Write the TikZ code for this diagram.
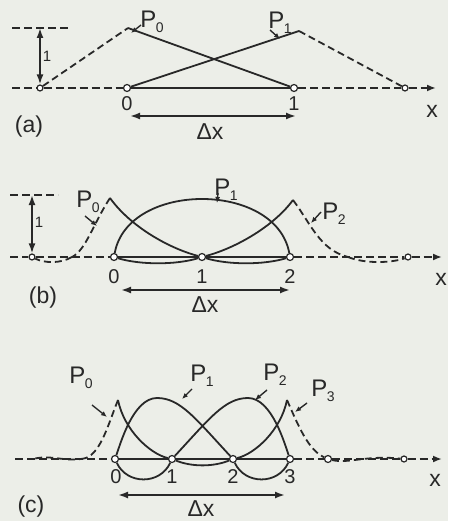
\documentclass[tikz,border=0pt]{standalone}
\usepackage{fontspec}
\setmainfont{Liberation Sans}
\usetikzlibrary{arrows.meta}
\definecolor{ink}{RGB}{40,40,40}
\definecolor{paper}{RGB}{236,238,232}
\newcommand{\Psub}[1]{P\kern-0.5pt\raisebox{-5pt}{\fontsize{14}{14}\selectfont #1}}
\begin{document}
\begin{tikzpicture}[x=1pt,y=-1pt,color=ink,line width=1.8pt,
  pt/.style={circle,draw=ink,fill=white,inner sep=0pt,minimum size=7pt,line width=1.2pt},
  spt/.style={pt,minimum size=6pt},
  axisdash/.style={dash pattern=on 8pt off 4pt},
  fdash/.style={dash pattern=on 7pt off 4pt},
  axtip/.style={-{Latex[length=9pt,width=7pt]}},
  dbl/.style={{Latex[length=10pt,width=7pt]}-{Latex[length=10pt,width=7pt]},line width=1.8pt},
  ptr/.style={-{Latex[length=6pt,width=5pt]},line width=1.4pt},
  plab/.style={font=\fontsize{24}{26}\selectfont,inner sep=0pt},
  num/.style={font=\fontsize{20}{21}\selectfont,inner sep=0pt},
  lab/.style={font=\fontsize{23}{25}\selectfont,inner sep=0pt},
  small/.style={font=\fontsize{15}{16}\selectfont,inner sep=0pt}]
\fill[paper] (0,0) rectangle (448,521);
\useasboundingbox (0,0) rectangle (448,521);

% ---------------- (a) ----------------
\coordinate (aS) at (12,88);
\node[spt] (aL) at (40,88) {};
\node[pt] (a0) at (127,88) {};
\node[pt] (a1) at (294,88) {};
\node[spt] (aR) at (405,88) {};
\coordinate (aE) at (436,88);
\coordinate (aT0) at (128,28);
\coordinate (aT1) at (299,31);
\coordinate (aTS) at (12,28);
\coordinate (aTE) at (68,28);
\coordinate (aV) at (40,28);
\draw[axisdash] (aTS) -- (aTE);
\draw[axisdash] (aS) -- (aL);
\draw[axisdash] (aL) -- (a0);
\draw (a0) -- (a1);
\draw[axisdash] (a1) -- (aR);
\draw[axisdash,axtip] (aR) -- (aE);
\draw[dbl] (aV) -- (aL);
\node[small] (aone) at (47,56) {1};
\draw[fdash] (aL) -- (aT0);
\draw (aT0) -- (a1);
\draw (a0) -- (aT1);
\draw[fdash] (aT1) -- (aR);
\node[plab] (aP0) at (152,22) {\Psub{0}};
\node[plab] (aP1) at (280,23) {\Psub{1}};
\coordinate (aP0s) at (141,25);
\coordinate (aP0t) at (131,33);
\coordinate (aP1s) at (270,30);
\coordinate (aP1t) at (280,39);
\draw[ptr] (aP0s) -- (aP0t);
\draw[ptr] (aP1s) -- (aP1t);
\node[num] (an0) at (127,104) {0};
\node[num] (an1) at (294,104) {1};
\coordinate (aD0) at (130,116);
\coordinate (aD1) at (296,116);
\draw[dbl] (aD0) -- (aD1);
\node[lab] (adx) at (210,132) {Δx};
\node[lab] (ax) at (432,111) {x};
\node[lab] (aname) at (29,127) {(a)};

% ---------------- (b) ----------------
\coordinate (bS) at (10,257);
\node[spt] (bL) at (32,257) {};
\coordinate (bl) at (72,257);
\node[pt] (b0) at (114,257) {};
\node[pt] (b1) at (202,257) {};
\node[pt] (b2) at (290,257) {};
\coordinate (br) at (348,257);
\node[spt] (bR) at (408,257) {};
\coordinate (bE) at (442,257);
\coordinate (bT0) at (110,198);
\coordinate (bT2) at (293,200);
\coordinate (bTS) at (10,195);
\coordinate (bTE) at (58,195);
\coordinate (bV) at (32,195);
\draw[axisdash] (bTS) -- (bTE);
\draw[axisdash] (bS) -- (bL);
\draw[axisdash] (bL) -- (b0);
\draw (b0) -- (b1);
\draw (b1) -- (b2);
\draw[axisdash] (b2) -- (bR);
\draw[axisdash,axtip] (bR) -- (bE);
\draw[dbl] (bV) -- (bL);
\node[small] (bone) at (39,222) {1};
% P1 arc
\draw (b0) .. controls (128,181) and (276,181) .. (b2);
% P0
\draw (bT0) .. controls (130,226) and (168,248) .. (b1);
\draw (b1) .. controls (228,265) and (264,265) .. (b2);
\draw[fdash] (bT0) .. controls (93,224) and (86,250) .. (bl);
\draw[fdash] (bl) .. controls (60,264) and (44,263) .. (bL);
% P2
\draw (b1) .. controls (236,248) and (274,226) .. (bT2);
\draw (b0) .. controls (140,265) and (176,265) .. (b1);
\draw[fdash] (bT2) .. controls (311,224) and (320,250) .. (br);
\draw[fdash] (br) .. controls (365,264) and (392,263) .. (bR);
\node[plab] (bP0) at (88,202) {\Psub{0}};
\node[plab] (bP1) at (226,190) {\Psub{1}};
\node[plab] (bP2) at (334,214) {\Psub{2}};
\coordinate (bP0s) at (85,216);
\coordinate (bP0t) at (97,226);
\coordinate (bP1s) at (218,193);
\coordinate (bP1t) at (217,203);
\coordinate (bP2s) at (321,212);
\coordinate (bP2t) at (311,223);
\draw[ptr] (bP0s) -- (bP0t);
\draw[ptr] (bP1s) -- (bP1t);
\draw[ptr] (bP2s) -- (bP2t);
\node[num] (bn0) at (114,277) {0};
\node[num] (bn1) at (202,277) {1};
\node[num] (bn2) at (290,277) {2};
\coordinate (bD0) at (121,290);
\coordinate (bD1) at (290,290);
\draw[dbl] (bD0) -- (bD1);
\node[lab] (bdx) at (205,305) {Δx};
\node[lab] (bx) at (441,279) {x};
\node[lab] (bname) at (43,298) {(b)};

% ---------------- (c) ----------------
\coordinate (cS) at (15,459);
\coordinate (cw) at (33,459);
\coordinate (cl) at (86,458);
\node[pt] (c0) at (115,459) {};
\node[pt] (c1) at (172,459) {};
\node[pt] (c2) at (233,459) {};
\node[pt] (c3) at (290,459) {};
\node[pt] (cr) at (328,459) {};
\node[spt] (cR) at (404,459) {};
\coordinate (cE) at (442,459);
\coordinate (cT0) at (118,400);
\coordinate (cT3) at (287,400);
\coordinate (cP1) at (157,398);
\coordinate (cP2) at (248,398);
\draw[axisdash] (cS) -- (c0);
\draw (c0) -- (c1);
\draw (c1) -- (c2);
\draw (c2) -- (c3);
\draw[axisdash] (c3) -- (cr);
\draw[axisdash] (cr) -- (cR);
\draw[axisdash,axtip] (cR) -- (cE);
% P0
\draw (cT0) .. controls (124,430) and (150,454) .. (c1);
\draw (c1) .. controls (192,467) and (213,467) .. (c2);
\draw[fdash] (cT0) .. controls (108,425) and (101,452) .. (cl);
\draw[fdash] (cl) .. controls (66,463) and (52,454) .. (cw);
% P1
\draw (c0) .. controls (120,445) and (133,398) .. (cP1) .. controls (180,398) and (195,418) .. (c2);
\draw (c2) .. controls (245,485) and (278,485) .. (c3);
% P2
\draw (c3) .. controls (285,445) and (272,398) .. (cP2) .. controls (225,398) and (210,418) .. (c1);
\draw (c1) .. controls (160,485) and (127,485) .. (c0);
% P3
\draw (cT3) .. controls (281,430) and (255,454) .. (c2);
\draw[fdash] (cT3) .. controls (298,425) and (308,450) .. (cr);
\draw[fdash] (cr) .. controls (348,464) and (366,455) .. (cR);
\node[plab] (cP0l) at (81,378) {\Psub{0}};
\node[plab] (cP1l) at (202,376) {\Psub{1}};
\node[plab] (cP2l) at (275,375) {\Psub{2}};
\node[plab] (cP3l) at (323,391) {\Psub{3}};
\coordinate (cP0s) at (92,405);
\coordinate (cP0t) at (107,417);
\coordinate (cP1s) at (192,389);
\coordinate (cP1t) at (182,399);
\coordinate (cP2s) at (267,390);
\coordinate (cP2t) at (255,400);
\coordinate (cP3s) at (307,403);
\coordinate (cP3t) at (295,412);
\draw[ptr] (cP0s) -- (cP0t);
\draw[ptr] (cP1s) -- (cP1t);
\draw[ptr] (cP2s) -- (cP2t);
\draw[ptr] (cP3s) -- (cP3t);
\node[num] (cn0) at (116,477) {0};
\node[num] (cn1) at (172,477) {1};
\node[num] (cn2) at (233,477) {2};
\node[num] (cn3) at (290,477) {3};
\coordinate (cD0) at (118,495);
\coordinate (cD1) at (285,495);
\draw[dbl] (cD0) -- (cD1);
\node[lab] (cdx) at (201,509) {Δx};
\node[lab] (cx) at (435,480) {x};
\node[lab] (cname) at (31,507) {(c)};
\end{tikzpicture}
\end{document}
